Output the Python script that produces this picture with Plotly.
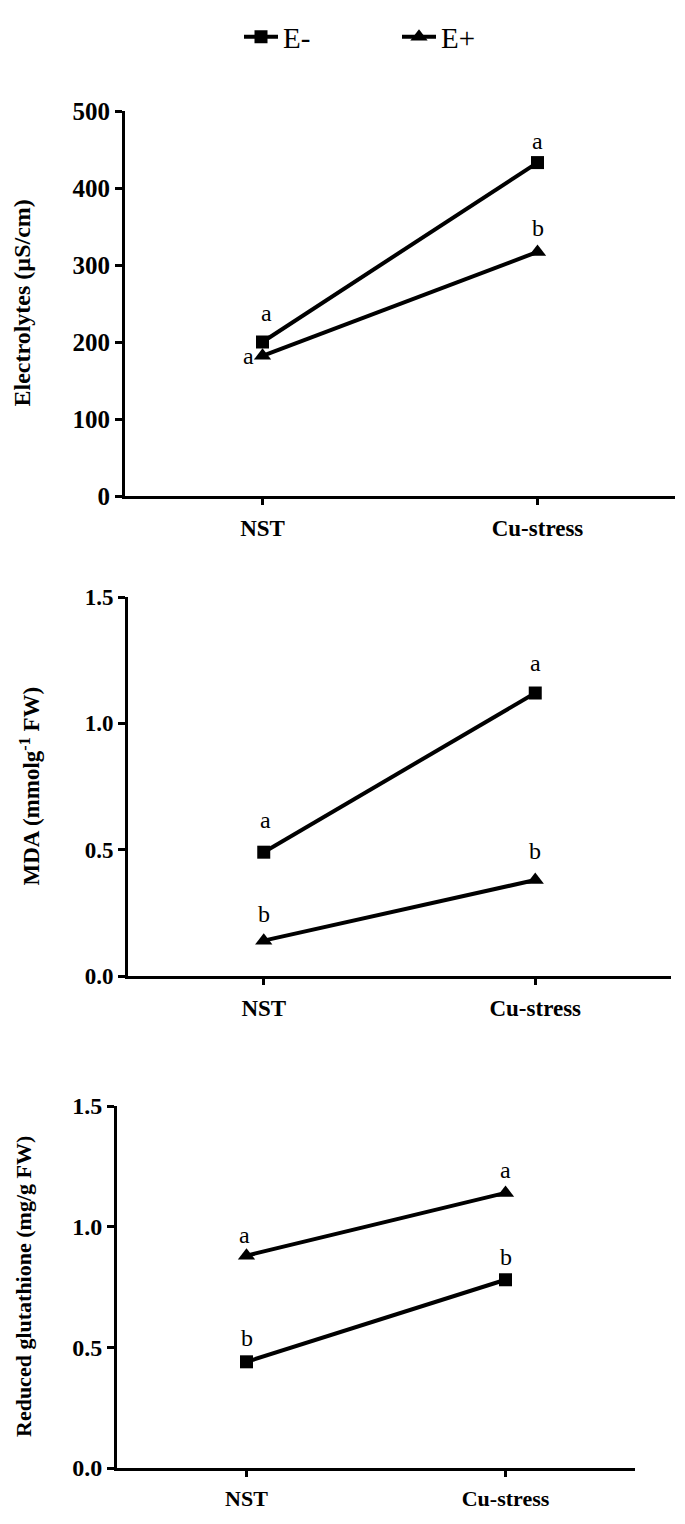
import plotly.graph_objects as go

# page is photographed at 685x1524; the html body has an 8px margin
PAGE_W, PAGE_H, OFF = 685, 1524, 8
W, H = PAGE_W - 2 * OFF, PAGE_H - 2 * OFF

categories = ["NST", "Cu-stress"]
series_names = ["E-", "E+"]

electrolytes_e_minus = [200, 433]
electrolytes_e_plus = [182, 317]
mda_e_minus = [0.49, 1.12]
mda_e_plus = [0.14, 0.38]
gsh_e_minus = [0.44, 0.78]
gsh_e_plus = [0.88, 1.14]

electrolytes_letters_minus = ["a", "a"]
electrolytes_letters_plus = ["a", "b"]
mda_letters_minus = ["a", "a"]
mda_letters_plus = ["b", "b"]
gsh_letters_minus = ["b", "b"]
gsh_letters_plus = ["a", "a"]

y_titles = ["Electrolytes (µS/cm)", "MDA (mmolg<sup>-1</sup> FW)", "Reduced glutathione (mg/g FW)"]
y_ranges = [[0, 500], [0, 1.5], [0, 1.5]]
y_dticks = [100, 0.5, 0.5]
y_formats = ["d", ".1f", ".1f"]

FONT = "Liberation Serif"


def fx(px):
    return (px - OFF) / W


def fy(py):
    return 1 - (py - OFF) / H


# page-pixel layout of the panels: (x_left, x_right, y_top, y_bottom)
panels_px = [(125, 675, 111, 496), (128, 671, 597, 976), (117, 635, 1106, 1468)]
title_x_px = [21, 30, 23]
tick_sizes = [25, 23, 24]
title_sizes = [24, 23, 22]
cat_sizes = [23, 23, 22]

data_minus = [electrolytes_e_minus, mda_e_minus, gsh_e_minus]
data_plus = [electrolytes_e_plus, mda_e_plus, gsh_e_plus]
letters_minus = [electrolytes_letters_minus, mda_letters_minus, gsh_letters_minus]
letters_plus = [electrolytes_letters_plus, mda_letters_plus, gsh_letters_plus]

# letter offsets (xshift, yshift) in px per panel, per category
shift_minus = [[(4, 29), (0, 22)], [(2, 32), (0, 30)], [(0, 24), (0, 23)]]
shift_plus = [[(-14, 0), (0, 24)], [(0, 27), (0, 29)], [(-2, 21), (0, 23)]]

fig = go.Figure()
annotations = []
layout = dict(
    width=W, height=H,
    margin=dict(l=0, r=0, t=0, b=0, pad=0, autoexpand=False),
    paper_bgcolor="white", plot_bgcolor="white",
    showlegend=True,
)

for i in range(3):
    ax = "" if i == 0 else str(i + 1)
    xl, xr, yt, yb = panels_px[i]
    fig.add_trace(go.Scatter(
        x=categories, y=data_minus[i], name=series_names[0],
        mode="lines+markers", xaxis="x" + ax, yaxis="y" + ax,
        line=dict(color="black", width=4),
        marker=dict(symbol="square", size=13, color="black"),
        showlegend=(i == 0), legendrank=1,
    ))
    fig.add_trace(go.Scatter(
        x=categories, y=data_plus[i], name=series_names[1],
        mode="lines+markers", xaxis="x" + ax, yaxis="y" + ax,
        line=dict(color="black", width=4),
        marker=dict(symbol="triangle-up", size=15, color="black"),
        showlegend=(i == 0), legendrank=2,
    ))
    layout["xaxis" + ax] = dict(
        domain=[fx(xl), fx(xr)], anchor="y" + ax,
        type="category", categoryorder="array", categoryarray=categories,
        range=[-0.5, 1.5], automargin=False,
        showline=True, linecolor="black", linewidth=3,
        ticks="outside", ticklen=6, tickwidth=2.5, tickcolor="black",
        showgrid=False, zeroline=False, ticklabelstandoff=3,
        tickfont=dict(family=FONT, size=cat_sizes[i], color="black", weight="bold"),
    )
    layout["yaxis" + ax] = dict(
        domain=[fy(yb), fy(yt)], anchor="x" + ax,
        range=y_ranges[i], dtick=y_dticks[i], tick0=0, tickformat=y_formats[i],
        automargin=False,
        showline=True, linecolor="black", linewidth=3,
        ticks="outside", ticklen=7, tickwidth=2.5, tickcolor="black",
        showgrid=False, zeroline=False,
        tickfont=dict(family=FONT, size=tick_sizes[i], color="black", weight="bold"),
    )
    annotations.append(dict(
        text=y_titles[i], textangle=-90, showarrow=False,
        xref="paper", yref="paper", x=fx(title_x_px[i]), y=fy((yt + yb) / 2),
        xanchor="center", yanchor="middle",
        font=dict(family=FONT, size=title_sizes[i], color="black", weight="bold"),
    ))
    for j, c in enumerate(categories):
        for vals, lets, sh in ((data_minus[i], letters_minus[i], shift_minus[i]),
                               (data_plus[i], letters_plus[i], shift_plus[i])):
            annotations.append(dict(
                text=lets[j], showarrow=False,
                xref="x" + ax, yref="y" + ax, x=c, y=vals[j],
                xshift=sh[j][0], yshift=sh[j][1],
                xanchor="center", yanchor="middle",
                font=dict(family=FONT, size=24, color="black"),
            ))

layout["annotations"] = annotations
layout["legend"] = dict(
    orientation="h", x=fx(239), y=fy(37), xanchor="left", yanchor="middle",
    font=dict(family=FONT, size=29, color="black"),
    itemwidth=34, entrywidth=109, entrywidthmode="pixels",
    bgcolor="rgba(0,0,0,0)", borderwidth=0,
)
fig.update_layout(**layout)
fig.write_html("out.html")
